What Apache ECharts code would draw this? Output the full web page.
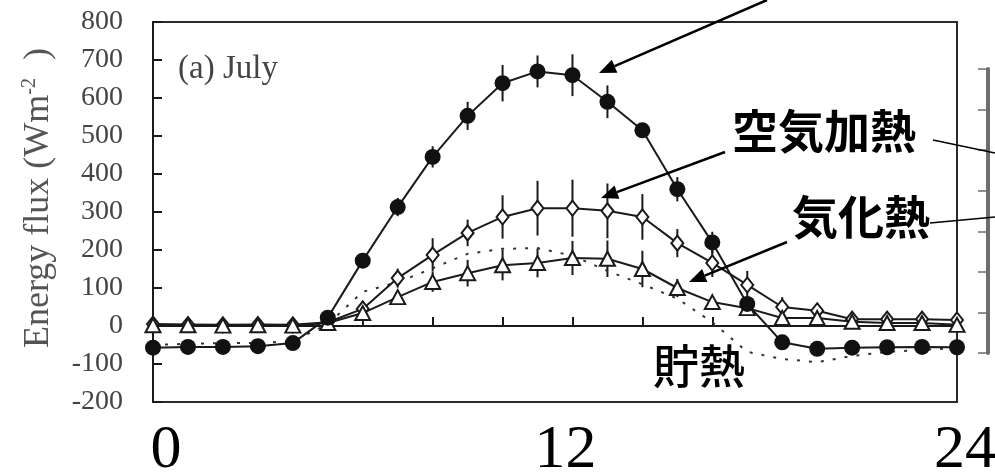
<!DOCTYPE html>
<html>
<head>
<meta charset="utf-8">
<script src="https://cdn.jsdelivr.net/npm/echarts@6/dist/echarts.min.js"></script>
<style>
html,body{margin:0;padding:0;background:#fff;}
#c{width:995px;height:475px;}
</style>
</head>
<body>
<div id="c"></div>
<script>
// ---- data ----
const hours = [0,1,2,3,4,5,6,7,8,9,10,11,12,13,14,15,16,17,18,19,20,21,22,23];
const netRad   = [-57,-55,-55,-53,-45,22,172,313,445,553,639,670,660,590,515,360,220,58,-43,-60,-57,-56,-55,-56];
const airHeat  = [5,4,3,4,3,10,45,126,187,245,287,310,310,303,287,218,166,108,50,40,18,18,18,16];
const latent   = [2,2,1,2,1,8,34,76,116,139,160,166,179,177,150,100,63,47,21,21,11,8,8,3];
const storage  = [-50,-47,-45,-45,-40,5,90,115,152,190,203,205,185,145,110,72,10,-68,-87,-95,-79,-68,-63,-58];
const netRadErr  = [0,0,0,0,0,0,15,24,28,37,48,42,55,43,0,32,28,10,0,0,0,0,0,0];
const airHeatErr = [0,0,0,0,0,0,10,25,44,35,57,72,75,72,60,37,37,37,26,20,0,0,0,0];
const latentErr  = [0,0,0,0,0,0,8,15,26,35,40,38,45,48,48,24,15,10,5,0,0,0,0,0];
const yTicks = [-200,-100,0,100,200,300,400,500,600,700,800];
const xTickLabels = [0,12,24];
const labels = {air:'空気加熱', latent:'気化熱', storage:'貯熱', panel:'(a) July'};

function pairs(v){ return hours.map((h,i)=>[h, v[i]]); }
function errData(v, e){ return hours.map((h,i)=>[h, v[i]-e[i], v[i]+e[i]]).filter((d,i)=>e[i]>0); }

const chart = echarts.init(document.getElementById('c'), null, {renderer:'canvas'});

function errSeries(v, e){
  return {
    type:'custom', xAxisIndex:0, yAxisIndex:0, z:1, silent:true,
    data: errData(v, e),
    renderItem: function(params, api){
      const p1 = api.coord([api.value(0), api.value(1)]);
      const p2 = api.coord([api.value(0), api.value(2)]);
      return {type:'line', shape:{x1:p1[0], y1:p1[1], x2:p2[0], y2:p2[1]},
              style:{stroke:'#1a1a1a', lineWidth:2}};
    }
  };
}

function arrow(x1,y1,x2,y2){
  const dx=x2-x1, dy=y2-y1, L=Math.sqrt(dx*dx+dy*dy), ux=dx/L, uy=dy/L;
  const hl=17, hw=7;
  const bx=x2-ux*hl, by=y2-uy*hl;
  return [
    {type:'line', shape:{x1:x1,y1:y1,x2:bx,y2:by}, style:{stroke:'#000', lineWidth:2.5}, z:100},
    {type:'polygon', shape:{points:[[x2,y2],[bx-uy*hw,by+ux*hw],[bx+uy*hw,by-ux*hw]]}, style:{fill:'#000'}, z:100}
  ];
}

const serif = '"Liberation Serif","Times New Roman",serif';
const jp = '"Noto Sans CJK JP","Noto Sans CJK SC",sans-serif';

const option = {
  animation:false,
  backgroundColor:'#fff',
  grid:[
    {left:153, right:38, top:22, bottom:73, show:true, borderColor:'#2a2a2a', borderWidth:2, backgroundColor:'transparent', outerBoundsMode:'none', containLabel:false},
    {left:166, right:30, top:22, bottom:73, show:false, outerBoundsMode:'none', containLabel:false},
    {left:988, right:5, top:69, bottom:122, show:false, outerBoundsMode:'none', containLabel:false}
  ],
  xAxis:[
    {type:'value', gridIndex:0, min:0, max:23, interval:2,
     axisLine:{show:true, onZero:true, lineStyle:{color:'#1a1a1a', width:2}},
     axisTick:{show:true, inside:true, length:9, lineStyle:{color:'#1a1a1a', width:2}},
     axisLabel:{show:false}, splitLine:{show:false}},
    {type:'value', gridIndex:1, min:0, max:24, interval:12,
     axisLine:{show:false}, axisTick:{show:false}, splitLine:{show:false},
     axisLabel:{show:true, margin:18, fontFamily:serif, fontSize:62, lineHeight:62, color:'#000',
                formatter:function(v){ return xTickLabels.indexOf(v)>=0 ? String(v) : ''; }}},
    {type:'value', gridIndex:2, min:0, max:1, show:false}
  ],
  yAxis:[
    {type:'value', gridIndex:0, min:-200, max:800, interval:100,
     axisLine:{show:true, onZero:false, lineStyle:{color:'#1a1a1a', width:2}},
     axisTick:{show:true, inside:true, length:9, lineStyle:{color:'#1a1a1a', width:2}},
     axisLabel:{show:true, margin:30, fontFamily:serif, fontSize:28, color:'#444',
                formatter:function(v){ return yTicks.indexOf(v)>=0 ? String(v) : ''; }},
     splitLine:{show:false},
     name:'Energy flux (Wm{sup|-2}  )', nameLocation:'middle', nameRotate:90, nameGap:95,
     nameTextStyle:{fontFamily:serif, fontSize:36, color:'#555', padding:[0,0,0,28],
       rich:{sup:{fontFamily:serif, fontSize:20, color:'#555', verticalAlign:'top', padding:[0,0,18,0]}}}},
    {type:'value', gridIndex:1, min:-200, max:800, show:false},
    {type:'value', gridIndex:2, min:0, max:7, interval:1,
     axisLine:{show:true, lineStyle:{color:'#6e6e6e', width:4}},
     axisTick:{show:true, inside:false, length:10, lineStyle:{color:'#6e6e6e', width:1.5}},
     axisLabel:{show:false}, splitLine:{show:false}}
  ],
  series:[
    errSeries(netRad, netRadErr),
    errSeries(airHeat, airHeatErr),
    errSeries(latent, latentErr),
    {name:'storage', type:'line', data:pairs(storage), showSymbol:false, symbol:'none', z:2,
     lineStyle:{color:'#333', width:2, type:[3,9]}},
    {name:'airHeat', type:'line', data:pairs(airHeat), z:3,
     symbol:'diamond', symbolSize:[12,15], showAllSymbol:true,
     lineStyle:{color:'#1a1a1a', width:2},
     itemStyle:{color:'#fff', borderColor:'#1a1a1a', borderWidth:2}},
    {name:'latent', type:'line', data:pairs(latent), z:4,
     symbol:'triangle', symbolSize:[15,14], showAllSymbol:true,
     lineStyle:{color:'#1a1a1a', width:2},
     itemStyle:{color:'#fff', borderColor:'#1a1a1a', borderWidth:2}},
    {name:'netRad', type:'line', data:pairs(netRad), z:5,
     symbol:'circle', symbolSize:16, showAllSymbol:true,
     lineStyle:{color:'#1a1a1a', width:2},
     itemStyle:{color:'#111', borderColor:'#111', borderWidth:0}}
  ],
  graphic:[].concat(
    [{type:'text', left:178, top:53, z:50,
      style:{text:labels.panel, font:'33px '+serif, fill:'#444'}}],
    [{type:'text', x:824, y:131, z:100, style:{text:labels.air, font:'bold 46px '+jp, fill:'#000', align:'center', verticalAlign:'middle'}}],
    [{type:'text', x:861, y:217, z:100, style:{text:labels.latent, font:'bold 46px '+jp, fill:'#000', align:'center', verticalAlign:'middle'}}],
    [{type:'text', x:699, y:366, z:100, style:{text:labels.storage, font:'500 46px '+jp, fill:'#000', align:'center', verticalAlign:'middle'}}],
    arrow(767,0,599,73),
    arrow(725,152,601,198),
    arrow(787,242,689,282),
    [{type:'line', shape:{x1:933,y1:140,x2:995,y2:153}, style:{stroke:'#000', lineWidth:1.5}, z:100},
     {type:'line', shape:{x1:930,y1:223,x2:995,y2:217}, style:{stroke:'#000', lineWidth:1.5}, z:100}]
  )
};
chart.setOption(option);
</script>
</body>
</html>
